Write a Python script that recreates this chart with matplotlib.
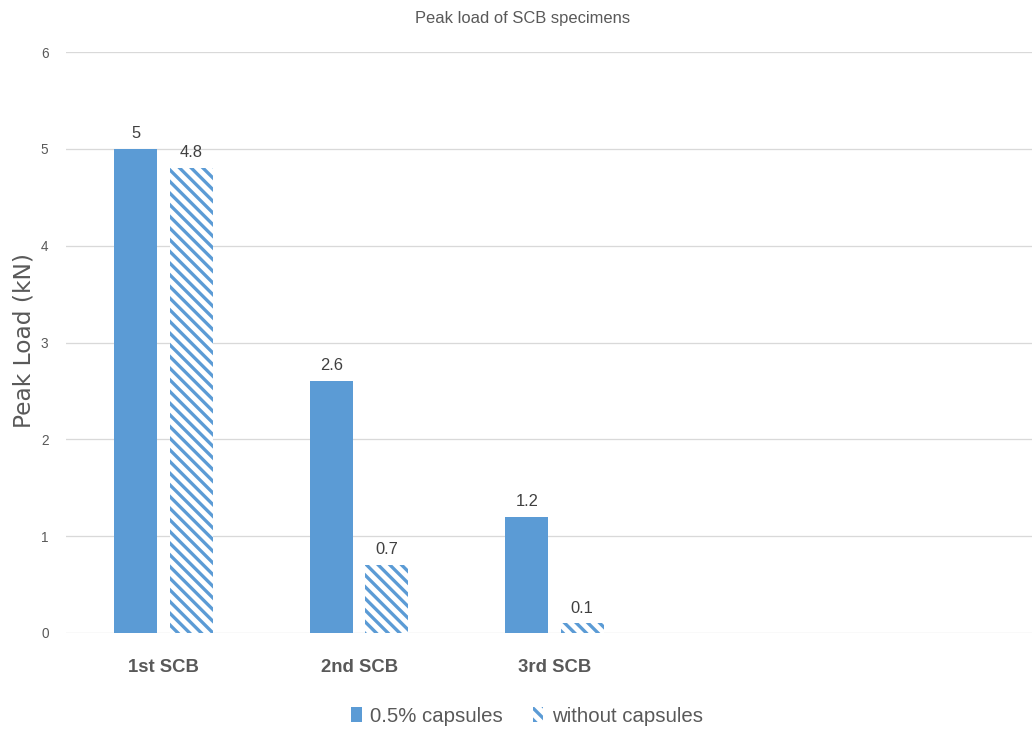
import matplotlib
matplotlib.use("Agg")
import matplotlib.pyplot as plt
import numpy as np

# Peak load values (kN) for each SCB test
categories = ["1st SCB", "2nd SCB", "3rd SCB"]
with_capsules = [5, 2.6, 1.2]
without_capsules = [4.8, 0.7, 0.1]
series_names = ["0.5% capsules", "without capsules"]
y_ticks = [0, 1, 2, 3, 4, 5, 6]

blue = "#5B9BD5"
grey = "#595959"

plt.rcParams["font.family"] = ["Liberation Sans", "DejaVu Sans"]
plt.rcParams["hatch.linewidth"] = 3.4

dpi = 70
fig = plt.figure(figsize=(1032 / dpi, 735 / dpi), dpi=dpi)
ax = fig.add_axes([66 / 1032, 102 / 735, 977 / 1032, 581 / 735])

x = np.arange(len(categories))
w = 0.22
off = 0.142

b1 = ax.bar(x - off, with_capsules, w, color=blue, linewidth=0,
            label=series_names[0], zorder=3)
b2 = ax.bar(x + off, without_capsules, w, color="white", edgecolor=blue,
            hatch="\\\\", linewidth=0, label=series_names[1], zorder=3)

for bars in (b1, b2):
    ax.bar_label(bars, labels=[f"{v:g}" for v in bars.datavalues], padding=8,
                 fontsize=17, color="#404040", zorder=4)

ax.set_xlim(-0.5, 4.5)
ax.set_ylim(0, 6)
ax.set_yticks(y_ticks)
ax.set_xticks(x)
ax.set_xticklabels(categories, fontsize=19, fontweight="bold", color=grey)
ax.tick_params(axis="y", length=0, pad=18, labelsize=14, labelcolor=grey)
ax.tick_params(axis="x", length=0, pad=27)
ax.grid(axis="y", color="#D9D9D9", linewidth=1.3, zorder=0)
for s in ax.spines.values():
    s.set_visible(False)

fig.text(24 / 1032, 1 - 341 / 735, "Peak Load (kN)", rotation=90,
         ha="center", va="center", fontsize=24, color=grey,
         family=["DejaVu Sans"])
fig.text(523 / 1032, 1 - 18 / 735, "Peak load of SCB specimens",
         ha="center", va="center", fontsize=17, color=grey)

fig.legend(handles=[b1, b2], loc="center", bbox_to_anchor=(527 / 1032, 1 - 716 / 735),
           ncol=2, frameon=False, fontsize=21, handlelength=0.5, handleheight=0.7,
           handletextpad=0.4, columnspacing=1.5, labelcolor=grey)

fig.savefig("out.png", dpi=dpi)
